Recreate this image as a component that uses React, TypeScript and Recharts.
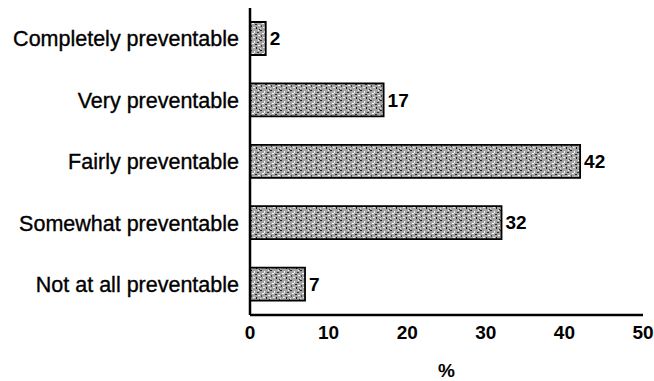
import React from 'react';
import { BarChart, Bar, XAxis, YAxis, LabelList } from 'recharts';

const categories = [
  'Completely preventable',
  'Very preventable',
  'Fairly preventable',
  'Somewhat preventable',
  'Not at all preventable',
];
const percentValues = [2, 17, 42, 32, 7];
const xTicks = [0, 10, 20, 30, 40, 50];

const data = categories.map((name, i) => ({ name, value: percentValues[i] }));

const FONT = '"Liberation Sans", Arial, sans-serif';

export default function App() {
  return (
    <div style={{ position: 'absolute', left: 0, top: 0 }}>
      <BarChart
        width={654}
        height={381}
        data={data}
        layout="vertical"
        margin={{ top: 8, right: 11, bottom: 0, left: 0 }}
        barCategoryGap={28}
      >
        <defs>
          <pattern id="speckle" width="10" height="10" patternUnits="userSpaceOnUse">
            <rect width="10" height="10" fill="#a4a4a4" />
            <rect x="0" y="0" width="2" height="1" fill="#222" />
            <rect x="4" y="1" width="1" height="2" fill="#f4f4f4" />
            <rect x="7" y="2" width="2" height="1" fill="#333" />
            <rect x="2" y="3" width="2" height="1" fill="#fff" />
            <rect x="5" y="4" width="2" height="1" fill="#2a2a2a" />
            <rect x="1" y="5" width="1" height="2" fill="#444" />
            <rect x="8" y="5" width="2" height="1" fill="#fafafa" />
            <rect x="3" y="7" width="2" height="1" fill="#eee" />
            <rect x="6" y="7" width="1" height="2" fill="#1a1a1a" />
            <rect x="0" y="8" width="1" height="1" fill="#e6e6e6" />
            <rect x="9" y="9" width="1" height="1" fill="#333" />
            <rect x="8" y="0" width="1" height="1" fill="#fff" />
          </pattern>
        </defs>
        <XAxis
          type="number"
          domain={[0, 50]}
          ticks={xTicks}
          tickLine={false}
          tickSize={0}
          tickMargin={11}
          axisLine={{ stroke: '#000', strokeWidth: 2.5 }}
          tick={{ fill: '#000', fontSize: 19, fontWeight: 'bold', fontFamily: FONT }}
          height={66}
          label={{ value: '%', position: 'insideBottom', offset: 4, fill: '#000', fontSize: 19, fontWeight: 'bold', fontFamily: FONT }}
        />
        <YAxis
          type="category"
          dataKey="name"
          width={250}
          tickLine={false}
          tickSize={0}
          tickMargin={11}
          axisLine={{ stroke: '#000', strokeWidth: 2.5 }}
          tick={{ fill: '#000', stroke: '#000', strokeWidth: 0.35, fontSize: 21.5, fontFamily: FONT }}
          interval={0}
        />
        <Bar
          dataKey="value"
          fill="url(#speckle)"
          stroke="#000"
          strokeWidth={1.8}
          barSize={33}
          isAnimationActive={false}
        >
          <LabelList
            dataKey="value"
            position="right"
            offset={4}
            fill="#000"
            fontSize={19}
            fontWeight="bold"
            fontFamily={FONT}
          />
        </Bar>
      </BarChart>
    </div>
  );
}
